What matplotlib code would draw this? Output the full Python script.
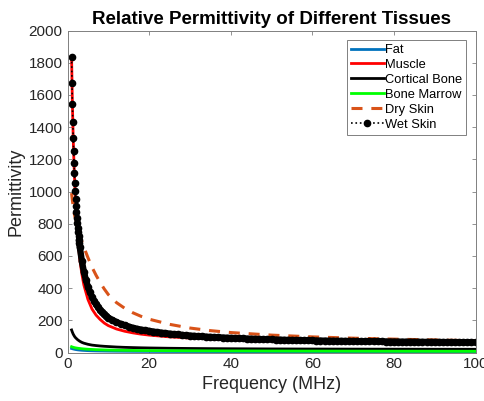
import numpy as np
import matplotlib
matplotlib.use("Agg")
import matplotlib.pyplot as plt

plt.rcParams['font.family'] = ['Liberation Sans', 'DejaVu Sans']

# Frequency grid (MHz) for the solid / dashed curves
f_line = [1, 1.2, 1.4, 1.6, 1.8, 2, 2.5, 3, 3.5, 4, 5, 6, 7, 8, 9, 10,
          12, 14, 16, 18, 20, 25, 30, 35, 40, 50, 60, 70, 80, 90, 100]

fat = [25, 23.5, 22, 20.8, 19.6, 18.5, 16.5, 15, 13.8, 12.9, 11.5, 10.6, 9.9, 9.4, 9.0, 8.6,
       8.0, 7.6, 7.2, 6.9, 6.7, 6.3, 6.0, 5.8, 5.6, 5.4, 5.3, 5.2, 5.1, 5.0, 5.0]

muscle = [1836, 1545, 1330, 1165, 1035, 930, 715, 580, 490, 420, 330, 270, 232, 205, 183, 167,
          146, 132, 122, 114, 108, 97, 90, 85, 81, 76, 72.5, 70, 68, 66.5, 65]

cortical_bone = [140, 126, 114, 105, 97, 91, 79, 70, 63, 58, 51, 46, 43, 40.5, 38.5, 37,
                 34, 32, 30.5, 29.2, 28.2, 26.3, 25, 24, 23.3, 22.2, 21.5, 21, 20.6, 20.2, 20]

bone_marrow = [36, 34, 32.5, 31, 29.8, 28.7, 26.5, 24.8, 23.4, 22.2, 20.3, 18.9, 17.7, 16.8, 16, 15.3,
               14.2, 13.4, 12.8, 12.3, 11.9, 11.2, 10.7, 10.3, 10.0, 9.4, 8.9, 8.5, 8.1, 7.8, 7.5]

dry_skin = [990, 945, 905, 870, 845, 830, 775, 728, 690, 655, 590, 530, 480, 435, 395, 360,
            310, 275, 247, 225, 207, 175, 152, 136, 124, 108, 97, 89, 83, 78, 73]

# Wet skin sampled densely (markers at each sample)
f_wet = list(np.round(np.arange(1.0, 3.01, 0.1), 1)) + \
        list(np.arange(3.5, 10.01, 0.5)) + list(np.arange(11, 101, 1.0))

wet_skin = [1833, 1675, 1541, 1430, 1334, 1251, 1178, 1113, 1055, 1001, 952,
            910, 872, 838, 806, 776, 749, 724, 700, 678, 657,
            570, 503, 451, 409, 374, 345, 321, 299, 281, 264, 250, 237, 226, 216,
            202, 189, 178, 169, 161, 153, 147, 142, 138, 134,
            130, 126, 123, 120, 117, 114, 112, 109, 107, 105,
            103, 101, 99.5, 98, 96.5, 95, 94, 92.7, 91.5, 90.3,
            89.2, 88.2, 87.1, 86.1, 85.1, 84.2, 83.3, 82.5, 81.6, 80.8,
            80.1, 79.3, 78.6, 77.9, 77.2, 76.7, 76.2, 75.7, 75.2, 74.7,
            74.3, 73.9, 73.4, 73.0, 72.6, 72.2, 71.9, 71.5, 71.2, 70.8,
            70.5, 70.1, 69.8, 69.5, 69.2, 68.9, 68.6, 68.3, 68.0, 67.7,
            67.4, 67.2, 66.9, 66.6, 66.4, 66.1, 65.9, 65.6, 65.4, 65.2,
            65.0, 64.7, 64.5, 64.3, 64.1, 63.9, 63.7, 63.5, 63.3, 63.1]

labels = ['Fat', 'Muscle', 'Cortical Bone', 'Bone Marrow', 'Dry Skin', 'Wet Skin']
x_ticks = [0, 20, 40, 60, 80, 100]
y_ticks = [0, 200, 400, 600, 800, 1000, 1200, 1400, 1600, 1800, 2000]

fig = plt.figure(figsize=(4.84, 4.01), dpi=100)
ax = fig.add_axes([67.5/484, 1 - 352.5/401, 408/484, 322/401])

ax.plot(f_line, fat, color='#0072BD', lw=2, label=labels[0])
ax.plot(f_line, muscle, color='#FF0000', lw=2, label=labels[1])
ax.plot(f_line, cortical_bone, color='black', lw=2, label=labels[2])
ax.plot(f_line, bone_marrow, color='#00FF00', lw=2, label=labels[3])
ax.plot(f_line, dry_skin, color='#D95319', lw=2.2, ls=(0, (3.6, 2.9)), label=labels[4])

# dense markers merge into a solid band where samples crowd together
band_start = 18  # index of f = 2.8 MHz
ax.plot(f_wet[band_start:], wet_skin[band_start:], color='black', lw=4.6,
        solid_capstyle='round', solid_joinstyle='round', label='_nolegend_')
ax.plot(f_wet, wet_skin, color='black', lw=1.2, ls=':', marker='o', ms=4.5,
        mfc='black', mec='black', label=labels[5])

ax.set_xlim(0, 100)
ax.set_ylim(0, 2000)
ax.set_xticks(x_ticks)
ax.set_yticks(y_ticks)
ax.tick_params(direction='in', length=3, width=0.6, colors='#262626',
               labelsize=11, top=True, right=True, labeltop=False, labelright=False,
               color='#808080')
for s in ax.spines.values():
    s.set_color('#808080')
    s.set_linewidth(0.7)

ax.set_xlabel('Frequency (MHz)', fontsize=13, color='#262626', labelpad=3)
ax.set_ylabel('Permittivity', fontsize=13, color='#262626', labelpad=3)
ax.set_title('Relative Permittivity of Different Tissues', fontsize=13.5,
             fontweight='bold', color='black', pad=5)

leg = ax.legend(loc='upper right', fontsize=9.3, handlelength=2.5, handletextpad=0.1,
                borderaxespad=0.7, labelspacing=0.22, borderpad=0.35, fancybox=False,
                framealpha=1, edgecolor='#808080', markerscale=1.0)
leg.get_frame().set_linewidth(0.7)

fig.savefig('out.png', dpi=100)
